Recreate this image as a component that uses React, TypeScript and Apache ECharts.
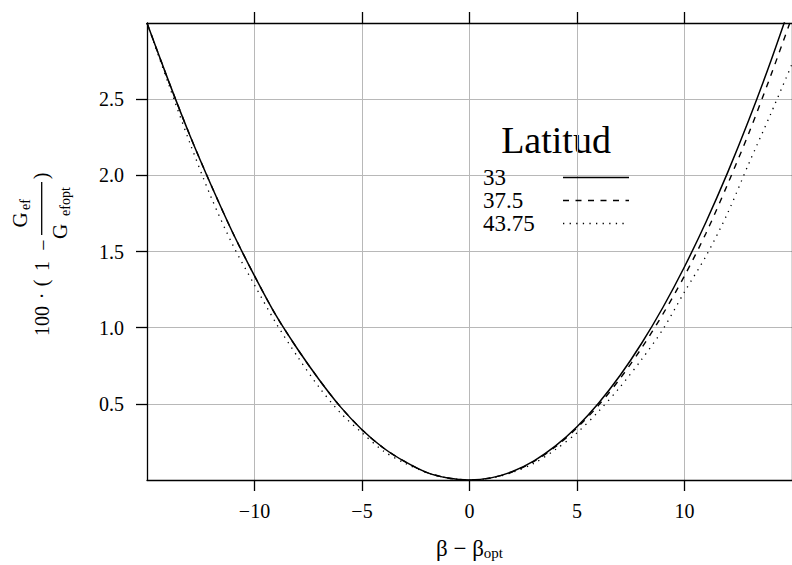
import React, { useEffect, useRef } from "react";
import * as echarts from "echarts";

const xValues = [-15, -14, -13, -12, -11, -10, -9, -8, -7, -6, -5, -4, -3, -2, -1, 0, 1, 2, 3, 4, 5, 6, 7, 8, 9, 10, 11, 12, 13, 14, 15];
const lat33 = [3.0, 2.62, 2.26, 1.93, 1.62, 1.34, 1.08, 0.86, 0.66, 0.48, 0.33, 0.21, 0.12, 0.05, 0.013, 0, 0.014, 0.056, 0.126, 0.224, 0.35, 0.504, 0.686, 0.896, 1.134, 1.4, 1.694, 2.016, 2.366, 2.744, 3.15];
const lat37 = [3.0, 2.62, 2.26, 1.93, 1.62, 1.34, 1.08, 0.86, 0.66, 0.48, 0.33, 0.21, 0.12, 0.05, 0.013, 0, 0.014, 0.054, 0.122, 0.218, 0.342, 0.49, 0.665, 0.865, 1.09, 1.34, 1.62, 1.94, 2.28, 2.65, 3.04];
const lat43 = [3.0, 2.6, 2.21, 1.85, 1.54, 1.28, 1.03, 0.81, 0.61, 0.44, 0.31, 0.19, 0.11, 0.05, 0.012, 0, 0.012, 0.05, 0.11, 0.2, 0.31, 0.45, 0.61, 0.79, 0.99, 1.235, 1.47, 1.75, 2.08, 2.4, 2.73];
const seriesNames = ["33", "37.5", "43.75"];
const xTickValues = [-10, -5, 0, 5, 10];
const yTickValues = [0.5, 1, 1.5, 2, 2.5];
const legendTitle = "Latitud";

const FONT = "'Liberation Serif', 'Times New Roman', serif";

const rotText = (text: string, x: number, y: number, size: number) => ({
  type: "text",
  x,
  y,
  rotation: Math.PI / 2,
  silent: true,
  style: {
    text,
    fontSize: size,
    fontFamily: FONT,
    fill: "#000",
    align: "center",
    verticalAlign: "middle",
    textAlign: "center",
    textVerticalAlign: "middle",
  },
});

export default function App() {
  const ref = useRef<HTMLDivElement>(null);
  useEffect(() => {
    if (!ref.current) return;
    const chart = echarts.init(ref.current, undefined, { renderer: "svg" });
    const pairs = (ys: number[]) => xValues.map((x, i) => [x, ys[i]]);
    const axisLine = { show: true, onZero: false, lineStyle: { color: "#000", width: 1.3 } };
    const tickStyle = { color: "#000", width: 1.3 };
    const minus = (v: number) => (v < 0 ? "\u2212" + Math.abs(v) : String(v));
    chart.setOption({
      animation: false,
      backgroundColor: "#fff",
      grid: { left: 147, right: -2, top: 23, bottom: 85, containLabel: false },
      xAxis: [
        {
          type: "value",
          position: "bottom",
          min: -15,
          max: 15,
          interval: 5,
          axisLine,
          axisTick: { show: true, length: 11, lineStyle: tickStyle, customValues: xTickValues },
          axisLabel: {
            customValues: xTickValues,
            formatter: minus,
            fontFamily: FONT,
            fontSize: 20,
            color: "#000",
            margin: 21,
          },
          splitLine: { show: true, lineStyle: { color: "#b8b8b8", width: 1 } },
          name: "β − β{sub|opt}",
          nameLocation: "middle",
          nameGap: 57,
          nameTextStyle: {
            fontFamily: FONT,
            fontSize: 23,
            color: "#000",
            rich: {
              sub: { fontFamily: FONT, fontSize: 15, color: "#000", verticalAlign: "bottom" },
            },
          },
        },
        {
          type: "value",
          position: "top",
          min: -15,
          max: 15,
          interval: 5,
          axisLine,
          axisTick: { show: true, length: 11, lineStyle: tickStyle, customValues: xTickValues },
          axisLabel: { show: false },
          splitLine: { show: false },
        },
      ],
      yAxis: [
        {
          type: "value",
          position: "left",
          min: 0,
          max: 3,
          interval: 0.5,
          axisLine,
          axisTick: { show: true, length: 11, lineStyle: tickStyle, customValues: yTickValues },
          axisLabel: {
            customValues: yTickValues,
            formatter: (v: number) => v.toFixed(1),
            fontFamily: FONT,
            fontSize: 20,
            color: "#000",
            margin: 23,
          },
          splitLine: { show: true, lineStyle: { color: "#b8b8b8", width: 1 } },
        },
        {
          type: "value",
          position: "right",
          min: 0,
          max: 3,
          interval: 0.5,
          axisLine,
          axisTick: { show: false },
          axisLabel: { show: false },
          splitLine: { show: false },
        },
      ],
      legend: {
        orient: "vertical",
        left: 483,
        top: 166,
        padding: 0,
        itemGap: 0,
        align: "right",
        itemWidth: 66,
        itemHeight: 12,
        selectedMode: false,
        itemStyle: { opacity: 0 },
        lineStyle: { width: 1.5 },
        data: seriesNames,
        formatter: (name: string) => "{a|" + name + "}",
        textStyle: {
          fontFamily: FONT,
          fontSize: 23,
          color: "#000",
          rich: {
            a: { fontFamily: FONT, fontSize: 23, color: "#000", width: 75, align: "left", lineHeight: 22 },
          },
        },
      },
      graphic: [
        {
          type: "text",
          x: 556,
          y: 140,
          silent: true,
          style: {
            text: legendTitle,
            fontSize: 38,
            fontFamily: FONT,
            fill: "#000",
            align: "center",
            verticalAlign: "middle",
            textAlign: "center",
            textVerticalAlign: "middle",
          },
        },
        rotText("100", 41.5, 321, 20),
        rotText("\u00B7", 41.5, 296, 20),
        rotText("(", 40.5, 283, 20),
        rotText("1", 41.5, 266, 20),
        rotText("\u2212", 43, 245, 20),
        {
          type: "line",
          silent: true,
          shape: { x1: 41.7, y1: 182, x2: 41.7, y2: 235 },
          style: { stroke: "#000", lineWidth: 1.3 },
        },
        rotText("G", 19.5, 220, 21),
        rotText("ef", 25, 204.5, 14),
        rotText("G", 60, 231.5, 21),
        rotText("efopt", 65, 201.5, 14),
        rotText(")", 40.5, 176, 20),
      ],
      series: [
        {
          name: seriesNames[0],
          type: "line",
          data: pairs(lat33),
          smooth: 0.3,
          showSymbol: false,
          symbol: "none",
          lineStyle: { color: "#000", width: 1.5, type: "solid" },
          itemStyle: { color: "#000" },
        },
        {
          name: seriesNames[1],
          type: "line",
          data: pairs(lat37),
          smooth: 0.3,
          showSymbol: false,
          symbol: "none",
          lineStyle: { color: "#000", width: 1.4, type: [6, 6.5] },
          itemStyle: { color: "#000" },
        },
        {
          name: seriesNames[2],
          type: "line",
          data: pairs(lat43),
          smooth: 0.3,
          showSymbol: false,
          symbol: "none",
          lineStyle: { color: "#000", width: 1.3, type: [1.3, 5.3] },
          itemStyle: { color: "#000" },
        },
      ],
    });
    return () => chart.dispose();
  }, []);
  return (
    <div
      ref={ref}
      style={{ position: "absolute", left: 0, top: 0, width: 792, height: 565, background: "#fff" }}
    />
  );
}
